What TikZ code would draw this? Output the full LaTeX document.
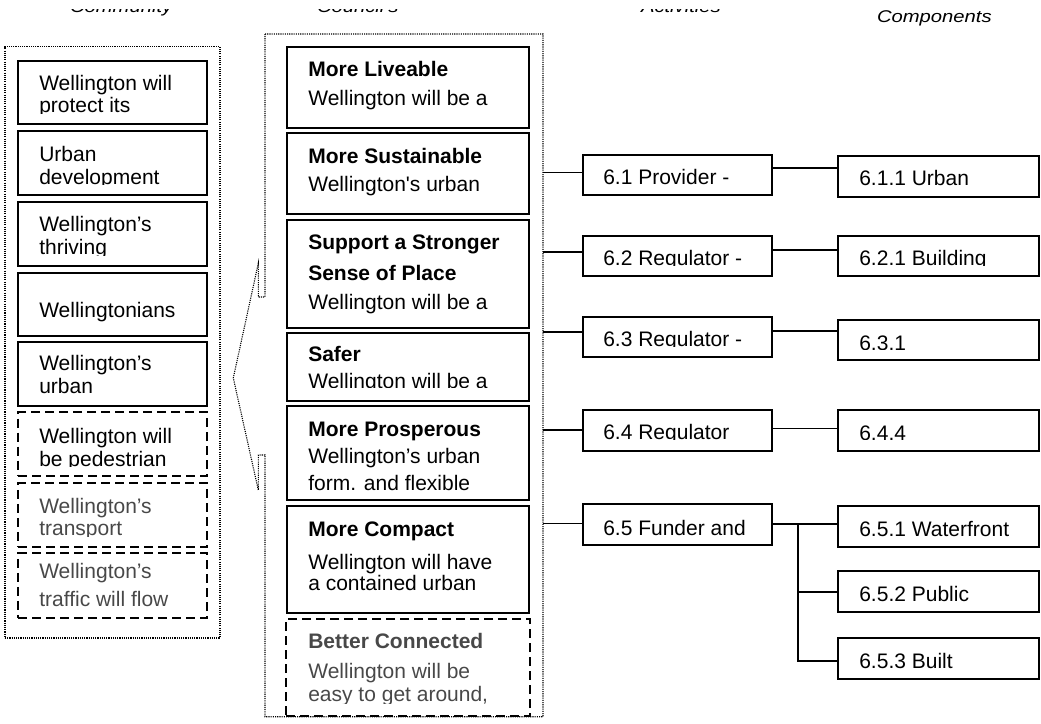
\documentclass[tikz,border=0pt]{standalone}
\usepackage{fontspec}
\setmainfont{Liberation Sans}[Ligatures=TeXOff]
\usepackage{graphicx}
\definecolor{txtgrey}{RGB}{72,72,72}

% a framed box given by its top-left and bottom-right corners
\newcommand\mkbox[6]{\node[#2, minimum width={#5-#3}, minimum height={#6-#4}] (#1) at (#3,#4) {};}
% text lines that are cut off at the lower edge of their box
\newcommand\cliptext[5]{\begin{scope}\clip (#1,#2) rectangle (#3,#4); #5\end{scope}}

\tikzset{
  ln/.style={anchor=base west, inner sep=0pt, outer sep=0pt, font=\fontsize{21}{25}\selectfont},
  bl/.style={ln, font=\fontsize{21}{25}\selectfont\bfseries},
  hdr/.style={anchor=base west, inner sep=0pt, outer sep=0pt, font=\fontsize{17}{20}\selectfont\itshape},
  solidbox/.style={draw, line width=1.9pt, anchor=north west, inner sep=0pt, outer sep=0pt},
  dashbox/.style={solidbox, dash pattern=on 9pt off 5pt},
  dotbox/.style={draw, line width=1.1pt, dash pattern=on 1.1pt off 1.1pt, anchor=north west, inner sep=0pt, outer sep=0pt},
  dotline/.style={line width=1.1pt, dash pattern=on 1.1pt off 1.1pt},
  link/.style={line width=1.6pt},
}

\begin{document}
\begin{tikzpicture}[x=1pt,y=-1pt]
\useasboundingbox (0,0) rectangle (1041,723);

% ---- column headings (upper lines cut off by the header band)
\begin{scope}
  \clip (0,9.3) rectangle (800,40);
  \node[hdr] (h1) at (70,12) {\scalebox{1.19}[1]{Community}};
  \node[hdr] (h2) at (317,12) {\scalebox{1.19}[1]{Council's}};
  \node[hdr] (h3) at (641,12) {\scalebox{1.19}[1]{Activities}};
\end{scope}
\node[hdr] (h4) at (877,22.3) {\scalebox{1.19}[1]{Components}};

% ---- community outcomes
\mkbox{left}{dotbox}{5}{46.7}{220}{638}
\mkbox{L1}{solidbox}{18.3}{60.7}{207.3}{124}
\mkbox{L2}{solidbox}{18.3}{130.7}{207.3}{195}
\mkbox{L3}{solidbox}{18.3}{202.3}{207.3}{265.7}
\mkbox{L4}{solidbox}{18.3}{272.7}{207.3}{336}
\mkbox{L5}{solidbox}{18.3}{342.3}{207.3}{406}
\mkbox{L6}{dashbox}{18.3}{412.3}{207.3}{476}
\mkbox{L7}{dashbox}{18.3}{483.3}{207.3}{546.7}
\mkbox{L8}{dashbox}{18.3}{553.3}{207.3}{617.7}

\cliptext{18.3}{60.7}{207.3}{113}{%
  \node[ln] (L1a) at (39.3,90.7) {Wellington will};
  \node[ln] (L1b) at (39.3,112.7) {protect its};}
\cliptext{18.3}{130.7}{207.3}{184.5}{%
  \node[ln] (L2a) at (39.3,161.7) {Urban};
  \node[ln] (L2b) at (39.3,184) {development};}
\cliptext{18.3}{202.3}{207.3}{255}{%
  \node[ln] (L3a) at (39.3,231.7) {Wellington’s};
  \node[ln] (L3b) at (39.3,254) {thriving};}
\node[ln] (L4a) at (39.3,317.3) {Wellingtonians};
\cliptext{18.3}{342.3}{207.3}{394.5}{%
  \node[ln] (L5a) at (39.3,370.7) {Wellington’s};
  \node[ln] (L5b) at (39.3,393.3) {urban};}
\cliptext{18.3}{412.3}{207.3}{466.5}{%
  \node[ln] (L6a) at (39.3,443.3) {Wellington will};
  \node[ln] (L6b) at (39.3,466) {be pedestrian};}
\cliptext{18.3}{483.3}{207.3}{536}{%
  \node[ln, text=txtgrey] (L7a) at (39.3,513.3) {Wellington’s};
  \node[ln, text=txtgrey] (L7b) at (39.3,535.5) {transport};}
\cliptext{18.3}{553.3}{207.3}{608}{%
  \node[ln, text=txtgrey] (L8a) at (39.3,578.3) {Wellington’s};
  \node[ln, text=txtgrey] (L8b) at (39.3,606.7) {traffic will flow};}

% ---- long-term outcomes, framed by a callout pointing to the left column
\draw[dotline] (265,34) -- (543,34) -- (543,716.7) -- (265,716.7) -- (265,455)
  -- (258.3,455) -- (258.3,490) -- (233.3,378) -- (258.3,263.3) -- (258.3,297)
  -- (265,297) -- cycle;

\mkbox{M1}{solidbox}{287.3}{47.3}{529.3}{127.7}
\mkbox{M2}{solidbox}{287.3}{133.3}{529.3}{214}
\mkbox{M3}{solidbox}{287.3}{220}{529.3}{327.7}
\mkbox{M4}{solidbox}{287.3}{332.7}{529.3}{400.7}
\mkbox{M5}{solidbox}{287.3}{405.7}{529.3}{500}
\mkbox{M6}{solidbox}{287.3}{506}{529.3}{612.7}
\mkbox{M7}{dashbox}{286}{619}{530}{716}

\cliptext{287.3}{47.3}{529.3}{117}{%
  \node[bl] (M1a) at (308.3,76.7) {More Liveable};
  \node[ln] (M1b) at (308.3,105) {Wellington will be a};}
\cliptext{287.3}{133.3}{529.3}{203}{%
  \node[bl] (M2a) at (308.3,163.3) {More Sustainable};
  \node[ln] (M2b) at (308.3,191.7) {Wellington's urban};}
\cliptext{287.3}{220}{529.3}{317}{%
  \node[bl] (M3a) at (308.3,249.3) {Support a Stronger};
  \node[bl] (M3b) at (308.3,280) {Sense of Place};
  \node[ln] (M3c) at (308.3,309) {Wellington will be a};}
\cliptext{287.3}{332.7}{529.3}{387}{%
  \node[bl] (M4a) at (308.3,361.7) {Safer};
  \node[ln] (M4b) at (308.3,388.3) {Wellington will be a};}
\cliptext{287.3}{405.7}{529.3}{491}{%
  \node[bl] (M5a) at (308.3,436) {More Prosperous};
  \node[ln] (M5b) at (308.3,463.3) {Wellington’s urban};
  \node[ln] (M5c) at (308.3,490) {form. and flexible};}
\cliptext{287.3}{506}{529.3}{601}{%
  \node[bl] (M6a) at (308.3,536.7) {More Compact};
  \node[ln] (M6b) at (308.3,569.3) {Wellington will have};
  \node[ln] (M6c) at (308.3,590) {a contained urban};}
\cliptext{286}{619}{530}{703.3}{%
  \node[bl, text=txtgrey] (M7a) at (308.3,648.3) {Better Connected};
  \node[ln, text=txtgrey] (M7b) at (308.3,678.3) {Wellington will be};
  \node[ln, text=txtgrey] (M7c) at (308.3,701.7) {easy to get around,};}

% ---- activities
\mkbox{A1}{solidbox}{582.7}{155}{771.7}{195}
\mkbox{A2}{solidbox}{582.7}{235.7}{771.7}{276}
\mkbox{A3}{solidbox}{582.7}{317}{771.7}{357}
\mkbox{A4}{solidbox}{582.7}{410}{771.7}{450.7}
\mkbox{A5}{solidbox}{582.7}{504}{771.7}{544.7}

\cliptext{582.7}{155}{771.7}{185}{\node[ln] (A1t) at (603.3,184.3) {6.1 Provider -};}
\cliptext{582.7}{235.7}{771.7}{265.5}{\node[ln] (A2t) at (603.3,265) {6.2 Regulator -};}
\cliptext{582.7}{317}{771.7}{346.5}{\node[ln] (A3t) at (603.3,346.5) {6.3 Regulator -};}
\cliptext{582.7}{410}{771.7}{439.5}{\node[ln] (A4t) at (603.3,439.3) {6.4 Regulator};}
\cliptext{582.7}{504}{771.7}{536}{\node[ln] (A5t) at (603.3,535) {6.5 Funder and};}

% ---- activity components
\mkbox{C1}{solidbox}{838.3}{155.7}{1039.3}{196.7}
\mkbox{C2}{solidbox}{838.3}{235.7}{1039.3}{276}
\mkbox{C3}{solidbox}{838.3}{320}{1039.3}{360}
\mkbox{C4}{solidbox}{838.3}{410}{1039.3}{450.7}
\mkbox{C5}{solidbox}{838.3}{506}{1039.3}{546.7}
\mkbox{C6}{solidbox}{838.3}{571}{1039.3}{611.7}
\mkbox{C7}{solidbox}{838.3}{638.3}{1039.3}{679}

\cliptext{838.3}{155.7}{1039.3}{186}{\node[ln] (C1t) at (859.3,185) {6.1.1 Urban};}
\cliptext{838.3}{235.7}{1039.3}{265.5}{\node[ln] (C2t) at (859.3,265) {6.2.1 Building};}
\cliptext{838.3}{320}{1039.3}{349}{\node[ln] (C3t) at (859.3,350) {6.3.1};}
\cliptext{838.3}{410}{1039.3}{439.5}{\node[ln] (C4t) at (859.3,440) {6.4.4};}
\cliptext{838.3}{506}{1039.3}{537.5}{\node[ln] (C5t) at (859.3,536.7) {6.5.1 Waterfront};}
\cliptext{838.3}{571}{1039.3}{602.5}{\node[ln] (C6t) at (859.3,601.7) {6.5.2 Public};}
\cliptext{838.3}{638.3}{1039.3}{669}{\node[ln] (C7t) at (859.3,668.3) {6.5.3 Built};}

% ---- connectors
\coordinate (e1) at (543,172.3);
\coordinate (e2) at (543,251.7);
\coordinate (e3) at (543,332);
\coordinate (e4) at (543,430);
\coordinate (e5) at (543,523.3);
\coordinate (trunk) at (797.7,524);

\draw[link] (e1) -- (e1 -| A1.west);
\draw[link] (e2) -- (e2 -| A2.west);
\draw[link] (e3) -- (e3 -| A3.west);
\draw[link] (e4) -- (e4 -| A4.west);
\draw[link] (e5) -- (e5 -| A5.west);

\draw[link] (A1.east |- 0,167.7) -- (C1.west |- 0,167.7);
\draw[link] (A2.east |- 0,250) -- (C2.west |- 0,250);
\draw[link] (A3.east |- 0,331) -- (C3.west |- 0,331);
\draw[link] (A4.east |- 0,428.3) -- (C4.west |- 0,428.3);
\draw[link] (A5.east |- trunk) -- (C5.west |- trunk);
\draw[link] (trunk) -- (trunk |- 0,661) -- (C7.west |- 0,661);
\draw[link] (trunk |- 0,591.7) -- (C6.west |- 0,591.7);
\end{tikzpicture}
\end{document}
